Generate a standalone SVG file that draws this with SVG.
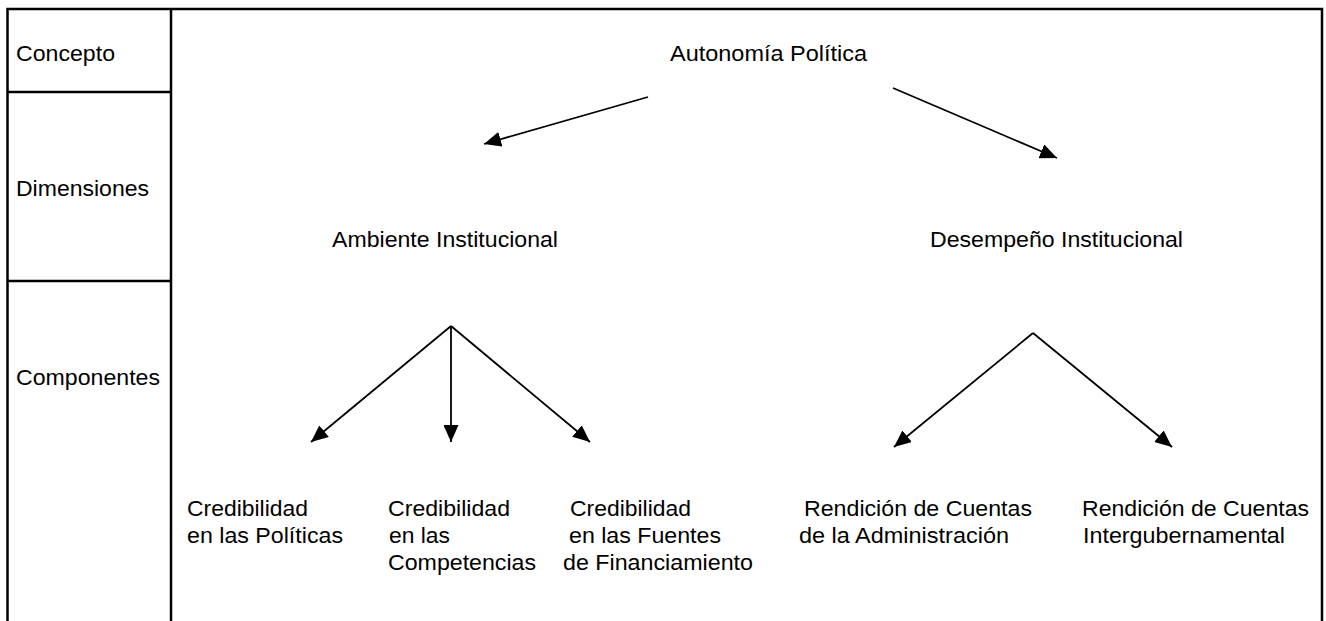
<svg xmlns="http://www.w3.org/2000/svg" width="1326" height="621" viewBox="0 0 1326 621">
<defs>
<style>
text{font-family:"Liberation Sans",Arial,sans-serif;font-size:22px;fill:#000}
.frame{fill:none;stroke:#000;stroke-width:2.5}
.conn line{stroke:#000;stroke-width:1.8;fill:none}
</style>
<marker id="ah" markerUnits="userSpaceOnUse" markerWidth="17" markerHeight="15" refX="17" refY="7.5" orient="auto">
<path d="M0,0 L17,7.5 L0,15 z" fill="#000"/>
</marker>
</defs>
<rect width="1326" height="621" fill="#fff"/>
<g id="table">
<path class="frame" d="M7.5,621 V9 H1322 V621 M171,9 V621 M7.5,92 H171 M7.5,281 H171"/>
</g>
<g id="row-labels">
<text x="16" y="61" textLength="99" lengthAdjust="spacingAndGlyphs">Concepto</text>
<text x="16" y="196" textLength="133" lengthAdjust="spacingAndGlyphs">Dimensiones</text>
<text x="16" y="385" textLength="144" lengthAdjust="spacingAndGlyphs">Componentes</text>
</g>
<g id="n-autonomia"><text x="670" y="61" textLength="197" lengthAdjust="spacingAndGlyphs">Autonomía Política</text></g>
<g id="n-ambiente"><text x="332" y="247" textLength="226" lengthAdjust="spacingAndGlyphs">Ambiente Institucional</text></g>
<g id="n-desempeno"><text x="930" y="247" textLength="253" lengthAdjust="spacingAndGlyphs">Desempeño Institucional</text></g>
<g id="n-cred-politicas">
<text x="187" y="516" textLength="121" lengthAdjust="spacingAndGlyphs">Credibilidad</text>
<text x="187" y="543" textLength="156" lengthAdjust="spacingAndGlyphs">en las Políticas</text>
</g>
<g id="n-cred-competencias">
<text x="388" y="516" textLength="122" lengthAdjust="spacingAndGlyphs">Credibilidad</text>
<text x="389" y="543" textLength="61" lengthAdjust="spacingAndGlyphs">en las</text>
<text x="388" y="570" textLength="148" lengthAdjust="spacingAndGlyphs">Competencias</text>
</g>
<g id="n-cred-fuentes">
<text x="570" y="516" textLength="121" lengthAdjust="spacingAndGlyphs">Credibilidad</text>
<text x="569" y="543" textLength="152" lengthAdjust="spacingAndGlyphs">en las Fuentes</text>
<text x="563" y="570" textLength="190" lengthAdjust="spacingAndGlyphs">de Financiamiento</text>
</g>
<g id="n-rend-admin">
<text x="804" y="516" textLength="228" lengthAdjust="spacingAndGlyphs">Rendición de Cuentas</text>
<text x="799" y="543" textLength="210" lengthAdjust="spacingAndGlyphs">de la Administración</text>
</g>
<g id="n-rend-inter">
<text x="1082" y="516" textLength="227" lengthAdjust="spacingAndGlyphs">Rendición de Cuentas</text>
<text x="1083" y="543" textLength="202" lengthAdjust="spacingAndGlyphs">Intergubernamental</text>
</g>
<g id="connectors" class="conn">
<line x1="648" y1="97" x2="484" y2="144" marker-end="url(#ah)"/>
<line x1="893" y1="88" x2="1057" y2="158" marker-end="url(#ah)"/>
<line x1="451" y1="326" x2="311" y2="442" marker-end="url(#ah)"/>
<line x1="451" y1="326" x2="451" y2="442" marker-end="url(#ah)"/>
<line x1="451" y1="326" x2="590" y2="442" marker-end="url(#ah)"/>
<line x1="1033" y1="333" x2="894" y2="447" marker-end="url(#ah)"/>
<line x1="1033" y1="333" x2="1172" y2="447" marker-end="url(#ah)"/>
</g>
</svg>
